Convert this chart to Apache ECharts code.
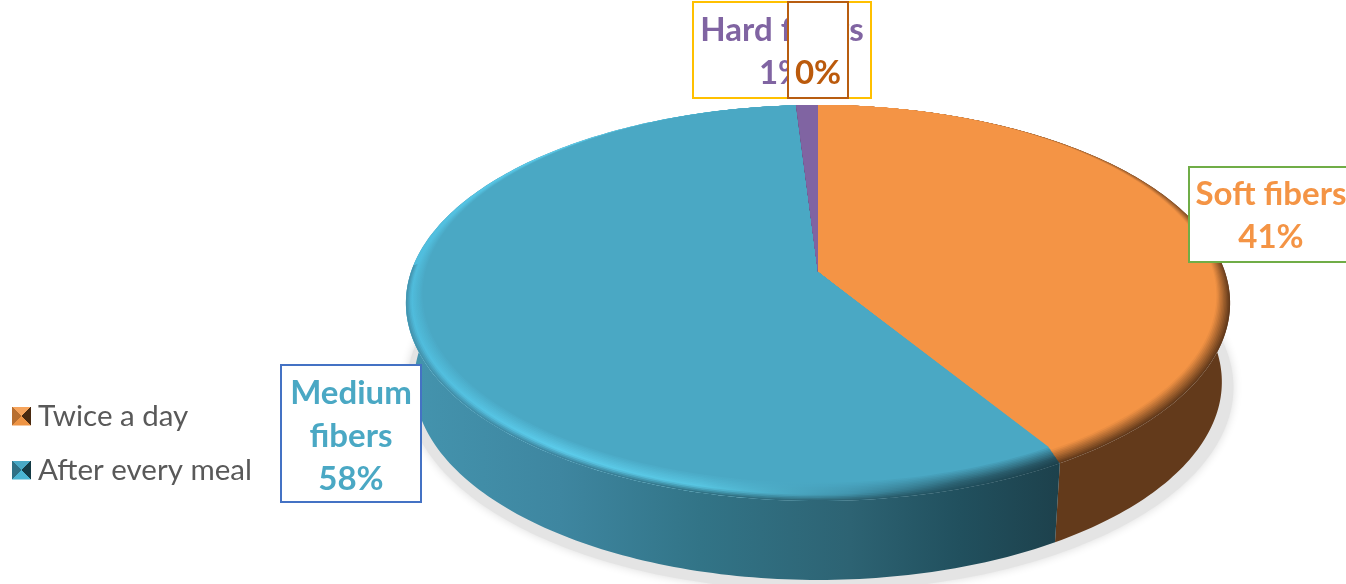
<!DOCTYPE html>
<html lang="en">

<head>
    <meta charset="UTF-8">
    <title>Fibers pie</title>
    <style>
        html, body { margin: 0; padding: 0; background: #fff; }
        #chart { width: 1346px; height: 584px; }
    </style>
</head>

<body>
    <div id="chart"></div>

    <script src="https://cdn.jsdelivr.net/npm/echarts@6/dist/echarts.min.js"></script>

    <script>
        // data
        const sliceNames = ['Soft fibers', 'Medium fibers', 'Hard fibers', ''];
        const sliceValues = [41.4, 57.6, 1, 0];
        const legendNames = ['Twice a day', 'After every meal'];

        // colours
        const topColors = ['#f49445', '#4aa8c4', '#8064a2', '#bb5a0c'];
        const wallColors = ['#633a1b', '#3c8199', '#4c3c61', '#633a1b'];
        const labelColors = ['#f49445', '#4aa8c4', '#8064a2', '#bb5a0c'];
        const borderColors = ['#70ad47', '#4472c4', '#ffc000', '#b85d10'];

        // shading of the blue edge, left to right
        const blueX = [407, 560, 700, 850, 960, 1060];
        const blueWall = ['#4494ae', '#3e86a0', '#327487', '#2d6373', '#21505e', '#1d414c'];
        const blueRim = ['#4fbcdc', '#5ccdec', '#58c6e2', '#4194ad', '#2b6070', '#25505e'];

        // label layout, first line centre y, line height
        const labelBoxes = [
            { x: 1189, y: 167, w: 170, h: 95, cx: 1271, y0: 194, lh: 43 },
            { x: 281, y: 365, w: 140, h: 137, cx: 351, y0: 393, lh: 43 },
            { x: 693, y: 2, w: 178, h: 96, cx: 782, y0: 30, lh: 43 },
            { x: 788, y: 2, w: 60, h: 96, cx: 818, y0: 73, lh: 43 }
        ];

        // perspective of the disc top
        const persp = { cx: 818, a: 150.5, b: 272, c: -0.1566, d: 407 };
        const wallDepth = 79;
        const wallShrink = 0.98; // bottom of the disc is a bit narrower
        const bevelInner = 0.966;
        const bevelSteps = 12;
        const frontEnd = 272; // wall is hidden past this angle

        const project = (u, v) => {
            const k = 1 + persp.c * v;
            return [persp.cx + persp.d * u / k, (persp.a * v + persp.b) / k];
        };

        // rim point at angle deg (clockwise from top), r = 1 outer edge
        const rim = (deg, r) => {
            const t = deg * Math.PI / 180;
            return project(r * Math.sin(t), -r * Math.cos(t) - (1 - r));
        };

        const arc = (from, to, r) => {
            const pts = [];
            const n = Math.max(2, Math.ceil(to - from));
            for (let i = 0; i <= n; i++) pts.push(rim(from + (to - from) * i / n, r));
            return pts;
        };

        const lower = (p) => [persp.cx + (p[0] - persp.cx) * wallShrink, p[1] + wallDepth];

        const total = sliceValues.reduce((s, v) => s + v, 0);
        const sliceRange = (idx) => {
            let before = 0;
            for (let i = 0; i < idx; i++) before += sliceValues[i];
            return [before / total * 360, (before + sliceValues[idx]) / total * 360];
        };

        const hex = (c) => [1, 3, 5].map(i => parseInt(c.slice(i, i + 2), 16));
        const mix = (c1, c2, f) => {
            const a = hex(c1), b = hex(c2);
            return '#' + a.map((x, i) => Math.round(x + (b[i] - x) * f).toString(16).padStart(2, '0')).join('');
        };

        const blueGradient = (colors) => new echarts.graphic.LinearGradient(
            blueX[0], 0, blueX[blueX.length - 1], 0,
            colors.map((color, i) => ({
                offset: (blueX[i] - blueX[0]) / (blueX[blueX.length - 1] - blueX[0]),
                color
            })),
            true
        );

        // colour of a bevel strip: f = 0 at outer edge, 1 on the flat top
        const stripFill = (idx, f) => {
            const edge = (wall, bright) => f < 0.3
                ? mix(wall, bright, f / 0.3)
                : mix(bright, topColors[idx], (f - 0.3) / 0.7);
            if (idx === 1) {
                return blueGradient(blueX.map((x, i) => edge(blueWall[i], blueRim[i])));
            }
            // the far edge of the disc is only lightly shaded
            const s = Math.min(1, f / 0.8);
            const near = mix(wallColors[idx], topColors[idx], s);
            const far = mix(wallColors[idx], topColors[idx], 0.55 + 0.45 * s);
            return new echarts.graphic.LinearGradient(0, 105, 0, 300, [
                { offset: 0, color: far },
                { offset: 1, color: near }
            ], true);
        };

        const renderShadow = (params) => {
            if (params.dataIndex !== 0) return null;
            const pts = arc(0, 360, 1.02).map(p => {
                const q = lower(p);
                return [q[0] + 2, q[1]];
            });
            return {
                type: 'polygon',
                shape: { points: pts },
                style: { fill: '#e4e4e4', shadowBlur: 10, shadowColor: 'rgba(0,0,0,0.14)' }
            };
        };

        const renderWall = (params, api) => {
            const idx = params.dataIndex;
            if (!api.value(0)) return null;
            const [from, to] = sliceRange(idx);
            const top = arc(from, to, 1);
            const bottom = top.slice().reverse().map(lower);
            return {
                type: 'polygon',
                shape: { points: top.concat(bottom) },
                style: { fill: idx === 1 ? blueGradient(blueWall) : wallColors[idx] }
            };
        };

        const renderTop = (params, api) => {
            const idx = params.dataIndex;
            if (!api.value(0)) return null;
            const [from, to] = sliceRange(idx);
            const apex = project(0, 0);
            const children = [];
            // blue: no dark outline along the far edge
            if (idx === 1) {
                children.push({
                    type: 'polygon',
                    shape: { points: [apex].concat(arc(from, to, 1)) },
                    style: { fill: blueGradient(blueRim) }
                });
            }
            for (let i = 0; i <= bevelSteps; i++) {
                const f = i / bevelSteps;
                const r = 1 - (1 - bevelInner) * f;
                const end = idx === 1 && f < 0.3 ? Math.min(to, frontEnd) : to;
                children.push({
                    type: 'polygon',
                    shape: { points: [apex].concat(arc(from, end, r)) },
                    style: { fill: stripFill(idx, f) }
                });
            }
            return { type: 'group', children };
        };

        const renderLabel = (params, api) => {
            const idx = params.dataIndex;
            const box = labelBoxes[idx];
            const pct = Math.round(api.value(0)) + '%';
            let lines = [sliceNames[idx], pct].filter(Boolean);
            if (idx === 1) lines = ['Medium', 'fibers', pct];
            const children = [{
                type: 'rect',
                shape: { x: box.x, y: box.y, width: box.w, height: box.h },
                style: { fill: '#ffffff', stroke: borderColors[idx], lineWidth: 2 }
            }];
            lines.forEach((text, i) => children.push({
                type: 'text',
                style: {
                    text,
                    x: box.cx,
                    y: box.y0 + i * box.lh,
                    align: 'center',
                    verticalAlign: 'middle',
                    fill: labelColors[idx],
                    font: 'bold 33px Lato, "Open Sans", sans-serif'
                }
            }));
            return { type: 'group', children };
        };

        const markerIcon = (t, l, r, b) => 'image://data:image/svg+xml;utf8,' + encodeURIComponent(
            '<svg xmlns="http://www.w3.org/2000/svg" width="19" height="19" shape-rendering="crispEdges">' +
            `<rect width="19" height="19" fill="${b}"/>` +
            `<polygon points="0,0 19,0 9.5,9.5" fill="${t}"/>` +
            `<polygon points="0,0 0,19 9.5,9.5" fill="${l}"/>` +
            `<polygon points="19,0 19,19 9.5,9.5" fill="${r}"/></svg>`
        );

        const oChart = echarts.init(document.querySelector('#chart'));

        const customSeries = (renderItem, z) => ({
            type: 'custom',
            coordinateSystem: 'none',
            silent: true,
            z,
            renderItem,
            data: sliceValues.map(v => [v])
        });

        oChart.setOption({
            animation: false,
            backgroundColor: '#ffffff',
            legend: {
                orient: 'vertical',
                left: 7,
                top: 396,
                itemWidth: 19,
                itemHeight: 19,
                itemGap: 24,
                textStyle: {
                    color: '#595959',
                    fontSize: 29.5,
                    fontFamily: 'Lato, "Open Sans", sans-serif',
                    padding: [0, 0, 0, 2]
                },
                data: [
                    { name: legendNames[0], icon: markerIcon('#f6a45c', '#b86f30', '#4a2a10', '#ee9444') },
                    { name: legendNames[1], icon: markerIcon('#49a8c5', '#2f7186', '#143a45', '#4ab4d2') }
                ]
            },
            series: [
                customSeries(renderShadow, 1),
                customSeries(renderWall, 2),
                customSeries(renderTop, 3),
                customSeries(renderLabel, 4),
                ...legendNames.map((name, i) => ({
                    type: 'custom',
                    name,
                    coordinateSystem: 'none',
                    itemStyle: { color: topColors[i] },
                    renderItem: () => null,
                    data: []
                }))
            ]
        });
    </script>
</body>

</html>
